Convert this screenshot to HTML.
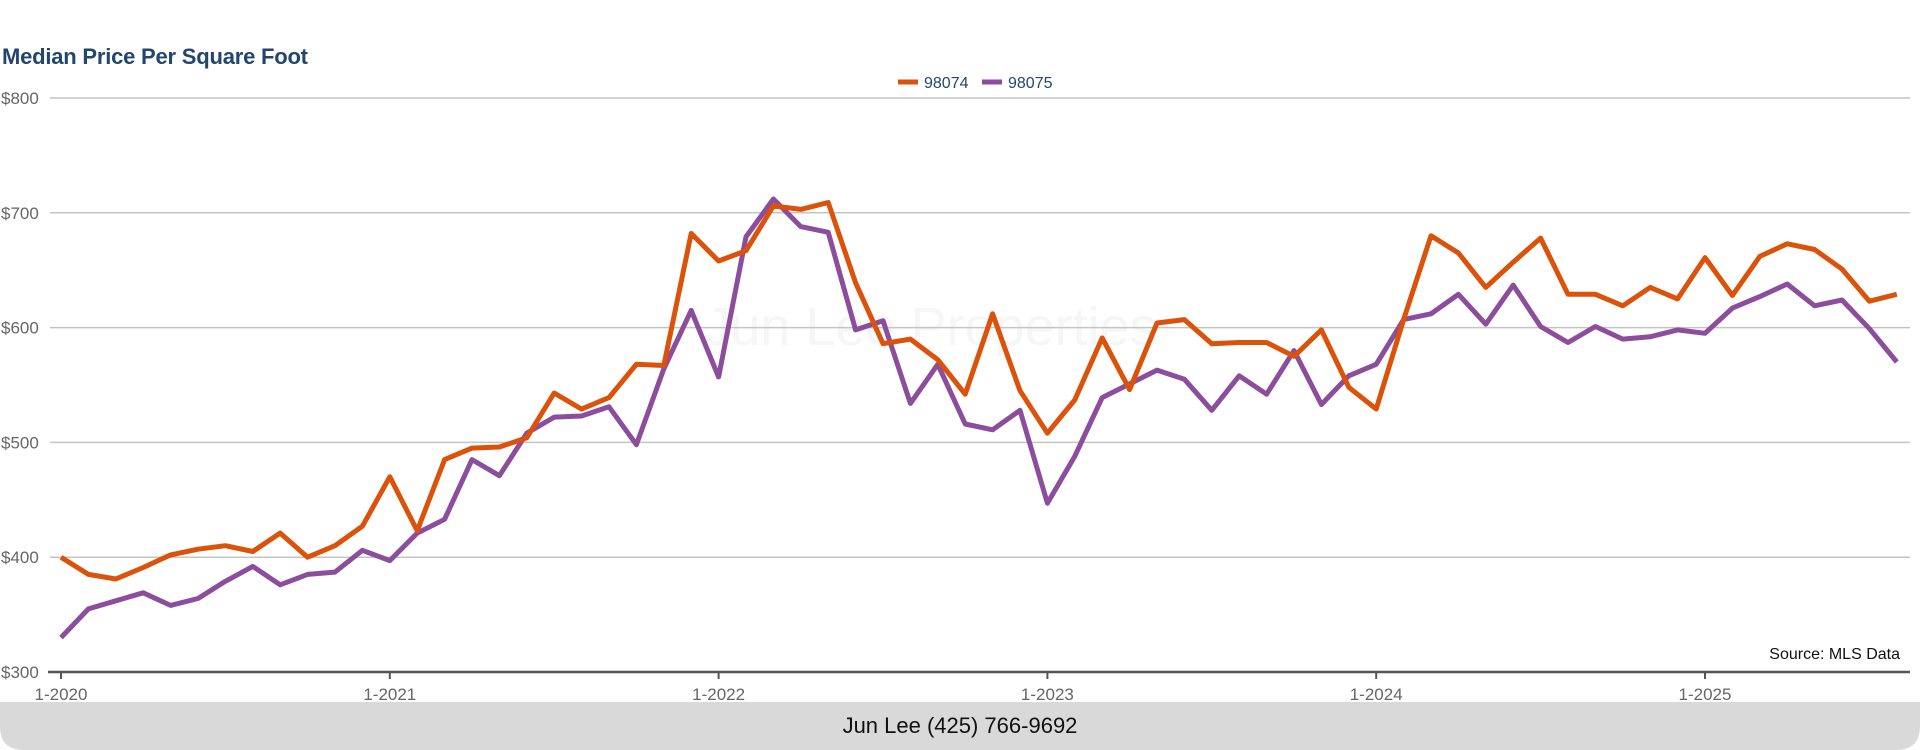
<!DOCTYPE html>
<html><head><meta charset="utf-8"><style>
html,body{margin:0;padding:0;background:#fff;width:1920px;height:750px;overflow:hidden;font-family:"Liberation Sans",Arial,sans-serif}
</style></head><body>
<svg id="chart" width="1920" height="750" xmlns="http://www.w3.org/2000/svg" font-family="Liberation Sans, Arial, sans-serif">
<text x="2" y="64" font-size="22" font-weight="bold" fill="#23466e" textLength="306">Median Price Per Square Foot</text>
<text x="930" y="345" font-size="54" fill="#f6f6f6" text-anchor="middle">Jun Lee Properties</text>
<g id="grid"></g>
<g id="lines"></g>
<g>
<line x1="898" y1="82" x2="918" y2="82" stroke="#db520b" stroke-width="5"/>
<text x="924" y="88" font-size="16" fill="#23466e">98074</text>
<line x1="982" y1="82" x2="1002" y2="82" stroke="#8c4d9c" stroke-width="5"/>
<text x="1008" y="88" font-size="16" fill="#23466e">98075</text>
</g>
<text x="1900" y="659" font-size="16" fill="#111" text-anchor="end">Source: MLS Data</text>
<path d="M0 702 H1920 V726 Q1920 750 1896 750 H24 Q0 750 0 726 Z" fill="#d9d9d9"/>
<text x="960" y="733" font-size="22" fill="#111" text-anchor="middle">Jun Lee (425) 766-9692</text>
</svg>
<script>
const yTicks = [300, 400, 500, 600, 700, 800];
const yearLabels = ["1-2020", "1-2021", "1-2022", "1-2023", "1-2024", "1-2025"];
const s98074 = [400,385,381,391,402,407,410,405,421,400,410,427,470,423,485,495,496,504,543,529,539,568,567,682,658,667,706,703,709,639,586,590,572,542,612,545,508,537,591,546,604,607,586,587,587,575,598,548,529,607,680,665,635,657,678,629,629,619,635,625,661,628,662,673,668,651,623,629];
const s98075 = [330,355,362,369,358,364,379,392,376,385,387,406,397,421,433,485,471,508,522,523,531,498,564,615,557,679,712,688,683,598,606,534,568,516,511,528,447,488,539,551,563,555,528,558,542,580,533,558,568,607,612,629,603,637,601,587,601,590,592,598,595,617,627,638,619,624,599,570];
const NS = "http://www.w3.org/2000/svg";
function xs(i){ return 61 + i * (1705 - 61) / 60; }
function ys(v){ return 672 - (v - 300) * 1.148; }
const grid = document.getElementById('grid');
yTicks.forEach(v => {
  if (v > 300) {
    const l = document.createElementNS(NS, 'line');
    
    
    l.setAttribute('x1', 50); l.setAttribute('x2', 1910);
    l.setAttribute('y1', ys(v)); l.setAttribute('y2', ys(v));
    l.setAttribute('stroke', '#c4c4c4'); l.setAttribute('stroke-width', '1.5');
    grid.appendChild(l);
  }
  const t = document.createElementNS(NS, 'text');
  
  
  t.setAttribute('x', 1); t.setAttribute('y', ys(v) + 6);
  t.setAttribute('font-size', '17'); t.setAttribute('fill', '#666');
  t.textContent = '$' + v;
  grid.appendChild(t);
});
const ax = document.createElementNS(NS, 'line');


ax.setAttribute('x1', 48); ax.setAttribute('x2', 1910);
ax.setAttribute('y1', 672); ax.setAttribute('y2', 672);
ax.setAttribute('stroke', '#555'); ax.setAttribute('stroke-width', '2.5');
grid.appendChild(ax);
yearLabels.forEach((lab, k) => {
  const x = xs(k * 12);
  const tk = document.createElementNS(NS, 'line');
  
  
  tk.setAttribute('x1', x); tk.setAttribute('x2', x);
  tk.setAttribute('y1', 672); tk.setAttribute('y2', 679);
  tk.setAttribute('stroke', '#555'); tk.setAttribute('stroke-width', '2');
  grid.appendChild(tk);
  const t = document.createElementNS(NS, 'text');
  
  
  t.setAttribute('x', x); t.setAttribute('y', 700);
  t.setAttribute('font-size', '17'); t.setAttribute('fill', '#666');
  t.setAttribute('text-anchor', 'middle');
  t.textContent = lab;
  grid.appendChild(t);
});
const lines = document.getElementById('lines');
function drawSeries(arr, color, name){
  const p = document.createElementNS(NS, 'polyline');
  
  
  p.setAttribute('points', arr.map((v, i) => xs(i).toFixed(1) + ',' + ys(v).toFixed(1)).join(' '));
  p.setAttribute('fill', 'none'); p.setAttribute('stroke', color);
  p.setAttribute('stroke-width', '5'); p.setAttribute('stroke-linejoin', 'round');
  lines.appendChild(p);
}
drawSeries(s98075, '#8c4d9c', 'line-98075');
drawSeries(s98074, '#db520b', 'line-98074');
</script>
</body></html>
